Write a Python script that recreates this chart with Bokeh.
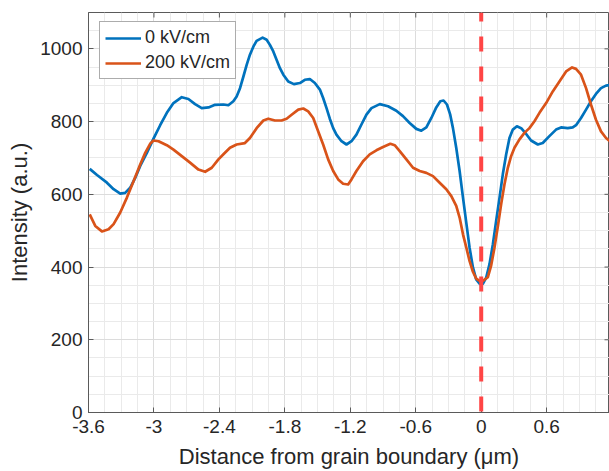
import numpy as np
from bokeh.plotting import figure
from bokeh.models import (Range1d, FixedTicker, Span, Legend, LegendItem)
from bokeh.embed import file_html
from bokeh.resources import INLINE

# ---- data ----
x_blue = [-3.589, -3.522, -3.431, -3.37, -3.309, -3.264, -3.218, -3.172, -3.126, -3.065,
          -3.004, -2.943, -2.882, -2.821, -2.745, -2.684, -2.623, -2.562, -2.5, -2.44,
          -2.363, -2.318, -2.272, -2.242, -2.211, -2.18, -2.15, -2.12, -2.089, -2.059,
          -2.004, -1.967, -1.937, -1.906, -1.876, -1.845, -1.814, -1.769, -1.717, -1.662,
          -1.617, -1.571, -1.525, -1.479, -1.449, -1.418, -1.388, -1.357, -1.327, -1.281,
          -1.235, -1.189, -1.144, -1.098, -1.052, -1.006, -0.93, -0.854, -0.778, -0.717,
          -0.656, -0.595, -0.549, -0.503, -0.457, -0.412, -0.375, -0.345, -0.314, -0.284,
          -0.259, -0.229, -0.198, -0.167, -0.137, -0.107, -0.076, -0.046, -0.015, 0.0,
          0.015, 0.046, 0.076, 0.107, 0.137, 0.168, 0.198, 0.229, 0.259, 0.29,
          0.327, 0.366, 0.412, 0.457, 0.519, 0.564, 0.625, 0.686, 0.732, 0.793,
          0.839, 0.869, 0.915, 0.961, 1.006, 1.052, 1.098, 1.144, 1.18]
y_blue = [670, 653, 632, 614, 602, 604, 618, 645, 678, 714,
          753, 790, 824, 851, 867, 862, 848, 837, 839, 846,
          847, 845, 856, 869, 892, 924, 956, 984, 1006, 1022,
          1031, 1025, 1011, 993, 970, 947, 929, 910, 903, 906,
          915, 917, 906, 888, 865, 837, 808, 782, 764, 746,
          737, 746, 764, 792, 819, 837, 848, 842, 830, 815,
          796, 780, 775, 784, 810, 839, 856, 858, 847, 819,
          782, 728, 664, 591, 522, 454, 399, 366, 354, 352,
          354, 371, 408, 463, 527, 591, 655, 710, 755, 778,
          787, 782, 766, 748, 737, 741, 760, 778, 784, 782,
          784, 790, 810, 833, 856, 876, 892, 899, 901]

x_orange = [-3.589, -3.538, -3.477, -3.416, -3.37, -3.309, -3.248, -3.187, -3.126, -3.08,
            -3.035, -3.004, -2.958, -2.882, -2.821, -2.745, -2.669, -2.592, -2.531, -2.47,
            -2.409, -2.363, -2.303, -2.242, -2.166, -2.12, -2.059, -1.997, -1.952, -1.891,
            -1.83, -1.784, -1.738, -1.677, -1.631, -1.586, -1.54, -1.494, -1.449, -1.403,
            -1.357, -1.311, -1.266, -1.22, -1.189, -1.144, -1.083, -1.022, -0.961, -0.9,
            -0.833, -0.793, -0.747, -0.686, -0.625, -0.564, -0.503, -0.442, -0.381, -0.32,
            -0.274, -0.229, -0.198, -0.167, -0.137, -0.107, -0.076, -0.046, -0.015, 0.015,
            0.061, 0.091, 0.122, 0.153, 0.183, 0.213, 0.244, 0.274, 0.305, 0.351,
            0.396, 0.442, 0.488, 0.534, 0.595, 0.656, 0.717, 0.778, 0.833, 0.869,
            0.915, 0.961, 1.006, 1.052, 1.098, 1.144, 1.18]
y_orange = [545, 513, 498, 504, 518, 550, 591, 636, 682, 714,
            739, 748, 746, 735, 723, 705, 687, 668, 662, 673,
            696, 710, 728, 737, 741, 755, 782, 803, 808, 803,
            803, 808, 819, 833, 836, 828, 810, 773, 737, 696,
            664, 641, 629, 627, 641, 664, 691, 710, 721, 730,
            739, 735, 719, 696, 673, 664, 659, 650, 632, 614,
            595, 568, 536, 490, 454, 417, 387, 368, 362, 362,
            372, 404, 454, 513, 573, 627, 673, 705, 728, 751,
            769, 782, 801, 824, 851, 883, 910, 938, 949, 945,
            929, 892, 847, 805, 773, 755, 746]

series_labels = ["0 kV/cm", "200 kV/cm"]
x_ticks = [-3.6, -3.0, -2.4, -1.8, -1.2, -0.6, 0.0, 0.6]
x_tick_labels = ["-3.6", "-3", "-2.4", "-1.8", "-1.2", "-0.6", "0", "0.6"]
y_ticks = [0, 200, 400, 600, 800, 1000]
boundary_x = 0.0

FONT = "Liberation Sans"
TXT = "#262626"
AX = "#5a5a5a"

X0, X1 = -3.6, 1.176
Y0, Y1 = 0, 1100
W, H = 609, 471
ML, MR, MT, MB = 88, 0, 12, 59

p = figure(width=W, height=H, output_backend="svg", toolbar_location=None,
           x_range=Range1d(X0, X1), y_range=Range1d(Y0, Y1),
           min_border_left=ML, min_border_right=MR, min_border_top=MT,
           min_border_bottom=MB)
p.background_fill_color = "white"
p.border_fill_color = "white"
p.outline_line_color = AX

x_minor = list(np.round(np.arange(-3.6, 1.2, 0.15), 4))
y_minor = list(range(0, 1101, 50))
xt = FixedTicker(ticks=x_ticks, minor_ticks=x_minor)
yt = FixedTicker(ticks=y_ticks, minor_ticks=y_minor)

p.xaxis.ticker = xt
p.yaxis.ticker = yt
p.xaxis.major_label_overrides = {t: l for t, l in zip(x_ticks, x_tick_labels)}

for ax in (p.xaxis[0], p.yaxis[0]):
    ax.axis_line_color = AX
    ax.major_tick_line_color = AX
    ax.major_tick_in = 5
    ax.major_tick_out = 0
    ax.minor_tick_in = 0
    ax.minor_tick_out = 0
    ax.major_label_text_font = FONT
    ax.major_label_text_font_size = "19px"
    ax.major_label_text_color = TXT
    ax.axis_label_text_font = FONT
    ax.axis_label_text_font_size = "22px"
    ax.axis_label_text_font_style = "normal"
    ax.axis_label_text_color = TXT

p.xaxis.axis_label = "Distance from grain boundary (μm)"
p.yaxis.axis_label = "Intensity (a.u.)"
p.xaxis.major_label_standoff = 7
p.xaxis.axis_label_standoff = 8
p.xaxis.axis_label_text_line_height = 1.0
p.xaxis.major_label_text_line_height = 1.0
p.yaxis.major_label_standoff = 6
p.yaxis.axis_label_standoff = 5

for g in (p.xgrid[0], p.ygrid[0]):
    g.grid_line_color = "#dcdcdc"
    g.grid_line_width = 1
    g.minor_grid_line_color = "#eaeaea"
    g.minor_grid_line_width = 1
p.xgrid.ticker = xt
p.ygrid.ticker = yt

# inward box ticks on the top and right edges (5 px long)
fw = W - ML - MR
fh = H - MT - MB
dy = 5 * (Y1 - Y0) / fh
dx = 5 * (X1 - X0) / fw
p.segment(x0=x_ticks, y0=[Y1] * len(x_ticks), x1=x_ticks, y1=[Y1 - dy] * len(x_ticks),
          line_color=AX, line_width=1)
p.segment(x0=[X1] * len(y_ticks), y0=y_ticks, x1=[X1 - dx] * len(y_ticks), y1=y_ticks,
          line_color=AX, line_width=1)

r_blue = p.line(x_blue, y_blue, line_color="#0072BD", line_width=2.7, line_join="round")
r_orange = p.line(x_orange, y_orange, line_color="#D95319", line_width=2.7, line_join="round")

span = Span(location=boundary_x, dimension="height", line_color="#ff4545",
            line_width=4, line_dash="15 15", line_dash_offset=6)
p.add_layout(span)

legend = Legend(items=[LegendItem(label=series_labels[0], renderers=[r_blue]),
                       LegendItem(label=series_labels[1], renderers=[r_orange])],
                location=(11, 333))
legend.label_text_font = FONT
legend.label_text_font_size = "18px"
legend.label_text_color = TXT
legend.glyph_width = 36
legend.glyph_height = 20
legend.label_height = 20
legend.label_standoff = 4
legend.spacing = 4
legend.padding = 5
legend.margin = 0
legend.border_line_color = AX
legend.border_line_width = 1
legend.background_fill_color = "white"
legend.background_fill_alpha = 1
p.add_layout(legend, "center")

open("out.html", "w").write(file_html(p, INLINE))
